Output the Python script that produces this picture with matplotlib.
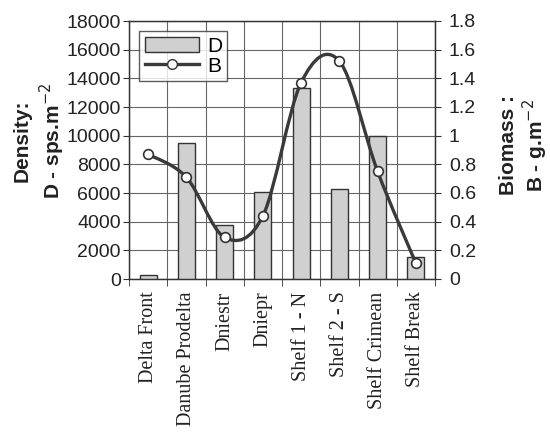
import numpy as np
import matplotlib
matplotlib.use("Agg")
import matplotlib.pyplot as plt
from matplotlib.path import Path
from matplotlib.patches import PathPatch
from matplotlib.lines import Line2D
from matplotlib.patches import Patch

categories = ["Delta Front", "Danube Prodelta", "Dniestr", "Dniepr",
              "Shelf 1 - N", "Shelf 2 - S", "Shelf Crimean", "Shelf Break"]
density = [250, 9500, 3750, 6100, 13300, 6250, 10000, 1550]
biomass = [0.87, 0.71, 0.29, 0.44, 1.37, 1.52, 0.75, 0.11]
left_ticks = [0, 2000, 4000, 6000, 8000, 10000, 12000, 14000, 16000, 18000]
right_ticks = [0, 0.2, 0.4, 0.6, 0.8, 1, 1.2, 1.4, 1.6, 1.8]
right_labels = ["0", "0.2", "0.4", "0.6", "0.8", "1", "1.2", "1.4", "1.6", "1.8"]

sans = ["Liberation Sans", "DejaVu Sans"]
serif = ["Liberation Serif", "DejaVu Serif"]
plt.rcParams['font.family'] = sans

fig = plt.figure(figsize=(5.5, 4.45), dpi=100)
ax = fig.add_axes([129/550, 1-279/445, (435-129)/550, (279-21)/445])
x = np.arange(len(categories))

ax.bar(x, density, width=0.45, color="#d0d0d0", edgecolor="#333333",
       linewidth=1.0, zorder=3)
ax.set_xlim(-0.5, len(categories) - 0.5)
ax.set_ylim(0, 18000)
ax.set_yticks(left_ticks)
ax.set_yticklabels([str(v) for v in left_ticks], fontsize=14, color="#222222")
ax.set_xticks(x)
ax.set_xticklabels(categories, rotation=90, fontsize=14.5, family=serif,
                   color="#222222")
ax.tick_params(axis="x", which="major", length=0, pad=9)
ax.set_xticks(np.arange(-0.5, len(categories), 1.0), minor=True)
ax.tick_params(axis="x", which="minor", length=5, color="#333333", direction="out")
ax.tick_params(axis="y", length=4, color="#333333", direction="out", pad=2)
ax.grid(True, axis="y", color="#666666", linewidth=0.8, zorder=0)
ax.grid(True, axis="x", which="minor", color="#666666", linewidth=0.8, zorder=0)
for s in ax.spines.values():
    s.set_color("#333333")
    s.set_linewidth(1.0)

ax2 = ax.twinx()
ax2.set_ylim(0, 1.8)
ax2.set_yticks(right_ticks)
ax2.set_yticklabels(right_labels, fontsize=14, color="#222222")
ax2.tick_params(axis="y", length=4, color="#333333", direction="out", pad=6)
for s in ax2.spines.values():
    s.set_color("#333333")

# smoothed line (Catmull-Rom as cubic Bezier path)
P = np.column_stack([x, biomass]).astype(float)
ext = np.vstack([P[0], P, P[-1]])
verts = [tuple(P[0])]
codes = [Path.MOVETO]
for i in range(len(P) - 1):
    p0, p1, p2, p3 = ext[i], ext[i + 1], ext[i + 2], ext[i + 3]
    c1 = p1 + (p2 - p0) / 6.0
    c2 = p2 - (p3 - p1) / 6.0
    verts += [tuple(c1), tuple(c2), tuple(p2)]
    codes += [Path.CURVE4, Path.CURVE4, Path.CURVE4]
patch = PathPatch(Path(verts, codes), facecolor="none", edgecolor="#3a3a3a",
                  linewidth=2.4, zorder=4)
ax2.add_patch(patch)
ax2.plot(x, biomass, linestyle="none", marker="o", markersize=7,
         markerfacecolor="white", markeredgecolor="#333333",
         markeredgewidth=1.2, zorder=5)

handles = [Patch(facecolor="#d0d0d0", edgecolor="#333333", linewidth=1.0),
           Line2D([0], [0], color="#3a3a3a", linewidth=2.4, marker="o",
                  markersize=7, markerfacecolor="white",
                  markeredgecolor="#333333")]
leg = ax2.legend(handles, ["D", "B"], loc="upper left", fontsize=15,
                 frameon=True, fancybox=False, edgecolor="#333333",
                 handlelength=2.6, handletextpad=0.4, borderpad=0.25,
                 labelspacing=0.05, bbox_to_anchor=(0.0, 1.0),
                 borderaxespad=0.5)
leg.get_frame().set_linewidth(1.0)

fig.text(22/550, 1-141/445, "Density:", rotation=90, ha="center", va="center",
         fontsize=15, fontweight="bold", color="#222222")
fig.text(52/550, 1-141/445, "D - sps.m$^{-2}$", rotation=90, ha="center",
         va="center", fontsize=15, fontweight="bold", color="#222222")
fig.text(508/550, 1-145/445, "Biomass :", rotation=90, ha="center", va="center",
         fontsize=15, fontweight="bold", color="#222222")
fig.text(535/550, 1-145/445, "B - g.m$^{-2}$", rotation=90, ha="center",
         va="center", fontsize=15, fontweight="bold", color="#222222")

fig.savefig("out.png", dpi=100)
